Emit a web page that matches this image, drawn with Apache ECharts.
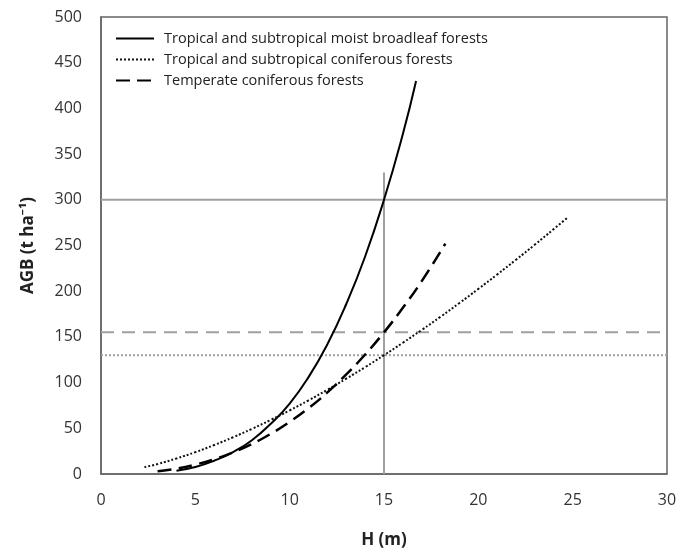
<!DOCTYPE html>
<html>
<head>
<meta charset="utf-8">
<script src="https://cdn.jsdelivr.net/npm/echarts@6/dist/echarts.min.js"></script>
<style>
html,body{margin:0;padding:0;background:#fff;}
#chart{width:691px;height:554px;}
</style>
</head>
<body>
<div id="chart"></div>
<script>
// Series names
const seriesNames = [
  'Tropical and subtropical moist broadleaf forests',
  'Tropical and subtropical coniferous forests',
  'Temperate coniferous forests'
];
// Tropical and subtropical moist broadleaf forests (H, AGB)
const broadleafH   = [4.0, 5, 6, 7, 8, 9, 10, 11, 12, 13, 14, 15, 16, 16.7];
const broadleafAGB = [3.6, 7.6, 14.5, 24, 37, 55, 77, 106, 142, 186, 238, 300, 372, 430];
// Tropical and subtropical coniferous forests
const coniferH   = [2.3, 3, 4, 5, 6, 7, 8, 9, 10, 11, 12, 13, 14, 15, 16, 17, 18, 19, 20, 21, 22, 23, 24, 24.7];
const coniferAGB = [7.5, 10.9, 17, 23.9, 31.7, 40.2, 49.4, 59.2, 69.6, 80.6, 92.2, 104.3, 116.9, 130, 143.6, 157.6, 172.1, 187.1, 202.5, 218.3, 234.5, 251, 268, 280];
// Temperate coniferous forests
const temperateH   = [3.0, 4, 5, 6, 7, 8, 9, 10, 11, 12, 13, 14, 15, 16, 17, 18.25];
const temperateAGB = [2.9, 5.9, 10.3, 16.1, 23.6, 32.8, 44, 57, 72, 89.3, 108.9, 130.7, 155, 181.8, 211, 252];
// Reference lines
const refSolidY = 300;
const refDashY = 155;
const refDotY = 130;
const refVertX = 15;
const refVertTop = 330;
// Axis ranges
const xMin = 0, xMax = 30, xStep = 5;
const yMin = 0, yMax = 500, yStep = 50;

const zip = (a, b) => a.map((v, i) => [v, b[i]]);
const refColor = '#a0a0a0';
const font = '"Open Sans", "Noto Sans", sans-serif';

const chart = echarts.init(document.getElementById('chart'), null, {renderer: 'canvas'});
chart.setOption({
  animation: false,
  backgroundColor: '#fff',
  grid: {left: 101, top: 17, right: 24, bottom: 72, show: true, borderColor: '#666', borderWidth: 1.5, backgroundColor: 'transparent'},
  legend: {
    data: seriesNames,
    orient: 'vertical',
    left: 110, top: 26,
    itemWidth: 38, itemHeight: 12, itemGap: 6,
    itemStyle: {opacity: 0},
    textStyle: {fontFamily: font, fontSize: 14.5, color: '#222', padding: [0, 0, 0, 5]}
  },
  xAxis: {
    type: 'value', min: xMin, max: xMax, interval: xStep,
    name: 'H (m)', nameLocation: 'middle', nameGap: 58,
    nameTextStyle: {fontFamily: font, fontSize: 17, fontWeight: 'bold', color: '#222'},
    axisLine: {show: true, lineStyle: {color: '#666', width: 1.5}},
    axisTick: {show: false},
    splitLine: {show: false},
    axisLabel: {fontFamily: font, fontSize: 16, color: '#333', margin: 18}
  },
  yAxis: {
    type: 'value', min: yMin, max: yMax, interval: yStep,
    name: 'AGB (t ha\u207B\u00B9)', nameLocation: 'middle', nameGap: 64,
    nameTextStyle: {fontFamily: font, fontSize: 17, fontWeight: 'bold', color: '#222'},
    axisLine: {show: true, lineStyle: {color: '#666', width: 1.5}},
    axisTick: {show: false},
    splitLine: {show: false},
    axisLabel: {fontFamily: font, fontSize: 16, color: '#333', margin: 19}
  },
  series: [
    {type: 'line', name: 'refSolid', data: [[xMin, refSolidY], [xMax, refSolidY]], symbol: 'none', silent: true,
      lineStyle: {color: refColor, width: 2, type: 'solid'}},
    {type: 'line', name: 'refDash', data: [[xMin, refDashY], [xMax, refDashY]], symbol: 'none', silent: true,
      lineStyle: {color: refColor, width: 2, type: [13, 8]}},
    {type: 'line', name: 'refDot', data: [[xMin, refDotY], [xMax, refDotY]], symbol: 'none', silent: true,
      lineStyle: {color: refColor, width: 2, type: [2, 2]}},
    {type: 'line', name: 'refVert', data: [[refVertX, yMin], [refVertX, refVertTop]], symbol: 'none', silent: true,
      lineStyle: {color: refColor, width: 2, type: 'solid'}},
    {type: 'line', name: seriesNames[0], data: zip(broadleafH, broadleafAGB), smooth: true, symbol: 'none',
      itemStyle: {color: '#000'}, lineStyle: {color: '#000', width: 2, type: 'solid'}},
    {type: 'line', name: seriesNames[1], data: zip(coniferH, coniferAGB), smooth: true, symbol: 'none',
      itemStyle: {color: '#000'}, lineStyle: {color: '#111', width: 2, type: [2, 2]}},
    {type: 'line', name: seriesNames[2], data: zip(temperateH, temperateAGB), smooth: true, symbol: 'none',
      itemStyle: {color: '#000'}, lineStyle: {color: '#000', width: 2.5, type: [14, 7]}}
  ]
});
</script>
</body>
</html>
